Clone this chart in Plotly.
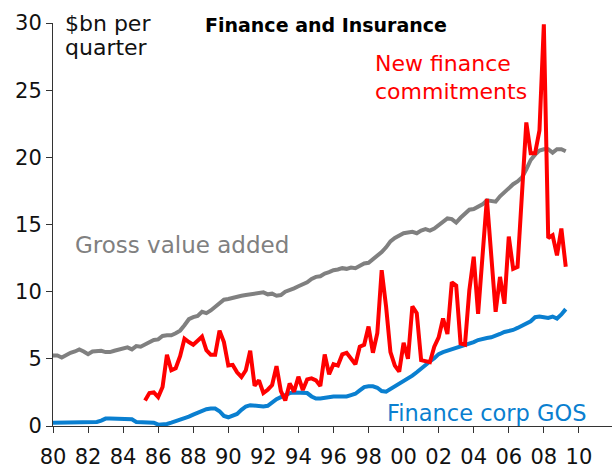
import plotly.graph_objects as go

# Quarterly periods
gva_start = 1980.0
gos_start = 1980.0
nfc_start = 1985.25

# Gross value added ($bn per quarter), 1980 Q1 - 2009 Q2
gva = [
    5.25, 5.25, 5.1, 5.3,
    5.45, 5.55, 5.7, 5.55,
    5.35, 5.55, 5.6, 5.6,
    5.5, 5.5, 5.6, 5.7,
    5.75, 5.85, 5.7, 5.95,
    5.9, 6.05, 6.25, 6.4,
    6.45, 6.7, 6.75, 6.75,
    6.9, 7.1, 7.5, 7.95,
    8.1, 8.2, 8.5, 8.4,
    8.6, 8.85, 9.1, 9.4,
    9.45, 9.55, 9.6, 9.7,
    9.75, 9.8, 9.9, 9.9,
    9.95, 9.8, 9.85, 9.7,
    9.75, 10.0, 10.1, 10.25,
    10.4, 10.55, 10.7, 10.95,
    11.1, 11.15, 11.35, 11.45,
    11.6, 11.65, 11.75, 11.7,
    11.8, 11.75, 11.95, 12.1,
    12.15, 12.4, 12.65, 12.95,
    13.3, 13.75, 14.0, 14.2,
    14.35, 14.4, 14.45, 14.35,
    14.55, 14.65, 14.55, 14.7,
    14.95, 15.2, 15.45, 15.4,
    15.15, 15.5, 15.85, 16.1,
    16.15, 16.3, 16.5, 16.8,
    16.75, 16.7, 17.1, 17.4,
    17.8, 18.0, 18.2, 18.5,
    19.1, 19.8, 20.2, 20.5,
    20.6, 20.6, 20.35, 20.6,
    20.6, 20.45,
]

# Finance corp gross operating surplus, 1980 Q1 - 2009 Q2
gos = [
    0.25, 0.25, 0.25, 0.25,
    0.25, 0.25, 0.25, 0.25,
    0.25, 0.25, 0.3, 0.4,
    0.55, 0.55, 0.55, 0.55,
    0.55, 0.55, 0.5, 0.3,
    0.3, 0.3, 0.3, 0.25,
    0.1, 0.1, 0.15, 0.25,
    0.35, 0.5, 0.6, 0.7,
    0.85, 1.0, 1.1, 1.25,
    1.3, 1.3, 1.1, 0.75,
    0.65, 0.75, 0.9, 1.2,
    1.45, 1.55, 1.5, 1.45,
    1.45, 1.5, 1.75, 2.0,
    2.15, 2.3, 2.45, 2.5,
    2.5, 2.5, 2.45, 2.2,
    2.05, 2.05, 2.1, 2.2,
    2.2, 2.2, 2.2, 2.2,
    2.3, 2.4, 2.65, 2.9,
    2.95, 2.95, 2.85, 2.6,
    2.55, 2.75, 2.95, 3.1,
    3.3, 3.5, 3.75, 4.0,
    4.3, 4.5, 4.8, 5.05,
    5.35, 5.5, 5.6, 5.7,
    5.8, 5.95, 6.05, 6.15,
    6.25, 6.4, 6.5, 6.55,
    6.6, 6.7, 6.85, 7.0,
    7.05, 7.15, 7.3, 7.45,
    7.6, 7.8, 8.1, 8.15,
    8.1, 8.05, 8.15, 8.0,
    8.3, 8.7,
]

# New finance commitments, 1985 Q2 - 2009 Q2
nfc = [
    1.9, 2.45, 2.5,
    2.15, 2.9, 5.3, 4.15,
    4.3, 5.2, 6.5, 6.25,
    6.05, 6.35, 6.65, 5.65,
    5.3, 5.3, 7.1, 6.25,
    4.5, 4.55, 4.0, 3.65,
    4.15, 5.6, 3.0, 3.4,
    2.45, 2.7, 3.05, 4.46,
    2.6, 1.9, 3.17, 2.55,
    3.67, 2.68, 3.47, 3.55,
    3.4, 2.98, 5.33, 3.85,
    4.6, 4.5, 5.33, 5.45,
    5.0, 4.6, 5.9, 6.05,
    7.4, 5.45, 6.9, 11.6,
    8.9, 5.5, 4.5, 4.05,
    6.2, 5.0, 8.9, 8.4,
    4.9, 4.8, 4.75, 5.9,
    6.6, 8.0, 6.85, 10.7,
    10.45, 6.15, 6.05, 10.1,
    12.6, 8.35, 13.0, 16.9,
    12.7, 8.5, 11.1, 9.1,
    14.1, 11.7, 11.85, 17.2,
    22.6, 20.3, 20.3, 22.0,
    29.9, 14.0, 14.2, 12.7,
    14.7, 11.85,
]

x_ticks = list(range(1980, 2011, 2))
x_tick_labels = ["%02d" % (y % 100) for y in x_ticks]
y_ticks = [0, 5, 10, 15, 20, 25, 30]


def quarters(start, n):
    return [start + 0.25 * i for i in range(n)]


GREY = "#808080"
RED = "#FF0000"
BLUE = "#0A7FD0"
FONT = "DejaVu Sans"

fig = go.Figure()
fig.add_trace(go.Scatter(x=quarters(gva_start, len(gva)), y=gva, mode="lines",
                         line=dict(color=GREY, width=4), name="Gross value added"))
fig.add_trace(go.Scatter(x=quarters(gos_start, len(gos)), y=gos, mode="lines",
                         line=dict(color=BLUE, width=4), name="Finance corp GOS"))
fig.add_trace(go.Scatter(x=quarters(nfc_start, len(nfc)), y=nfc, mode="lines",
                         line=dict(color=RED, width=4), name="New finance commitments"))

W, H = 612, 472
L, R, T, B = 53, 0, 23, 46
pw, ph = W - L - R, H - T - B
px_per_year = 17.53
x0 = 1980
x1 = x0 + pw / px_per_year


def ann(text, px, py, color, size=22, bold=False, anchor="left"):
    fig.add_annotation(
        text=("<b>%s</b>" % text) if bold else text,
        xref="paper", yref="paper",
        x=(px - L) / pw, y=(H - B - py) / ph,
        xanchor=anchor, yanchor="middle", showarrow=False,
        font=dict(family=FONT, size=size, color=color),
    )


ann("$bn per", 63, 23, "#111111")
ann("quarter", 63, 47, "#111111")
ann("Finance and Insurance", 203, 25, "#000000", size=19, bold=True)
ann("New finance", 373, 63, RED)
ann("commitments", 373, 91, RED)
ann("Gross value added", 73, 245, GREY, size=23)
ann("Finance corp GOS", 385, 413, BLUE, size=22.5)

fig.update_layout(
    width=W, height=H,
    margin=dict(l=L, r=R, t=T, b=B, pad=0),
    paper_bgcolor="white", plot_bgcolor="white",
    showlegend=False,
    font=dict(family=FONT, size=21, color="#111111"),
    xaxis=dict(range=[x0, x1], tickvals=x_ticks, ticktext=x_tick_labels,
               showgrid=False, zeroline=False, showline=True, linecolor="#333333",
               linewidth=1, ticks="outside", ticklen=6, tickcolor="#333333",
               ticklabelstandoff=6,
               tickfont=dict(size=21, family=FONT, color="#111111")),
    yaxis=dict(range=[0, 30], tickvals=y_ticks, showgrid=False, zeroline=False,
               showline=True, linecolor="#333333", linewidth=1, ticks="outside",
               ticklen=6, tickcolor="#333333",
               tickfont=dict(size=21, family=FONT, color="#111111")),
)

fig.write_html("out.html", config={"displayModeBar": False},
               post_script="document.body.style.margin='0px';")
